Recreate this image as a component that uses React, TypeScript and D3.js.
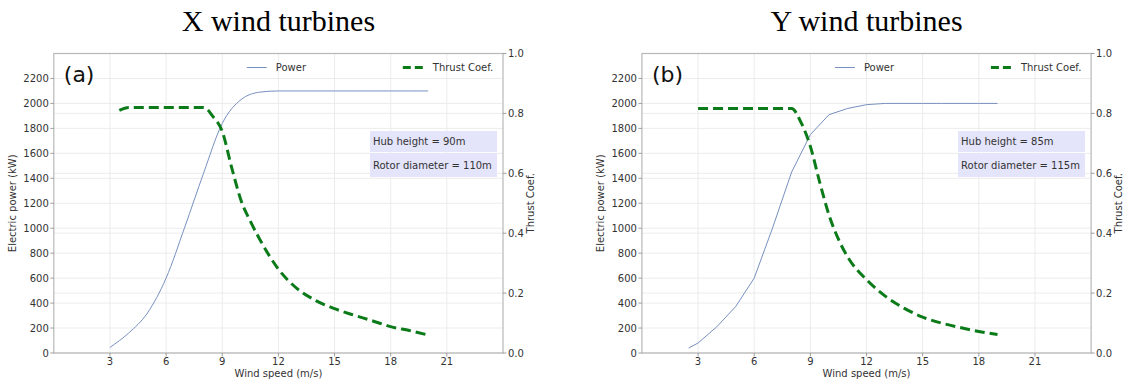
import React from "react";
import * as d3 from "d3";

// ---- Data ----
const windPowerA = [3, 4, 5, 6, 7, 8, 9, 10, 11, 12, 13, 14, 15, 16, 17, 18, 19, 20];
const powerA = [45, 160, 320, 600, 1010, 1440, 1840, 2030, 2090, 2100, 2100, 2100, 2100, 2100, 2100, 2100, 2100, 2100];
const windThrustA = [3.5, 4, 5, 6, 7, 8, 8.5, 9, 9.5, 10, 10.5, 11, 12, 13, 14, 15, 16, 17, 18, 19, 20];
const thrustA = [0.81, 0.82, 0.82, 0.82, 0.82, 0.82, 0.79, 0.74, 0.62, 0.51, 0.44, 0.38, 0.28, 0.215, 0.175, 0.148, 0.127, 0.108, 0.088, 0.075, 0.06];

const windPowerB = [2.5, 3, 4, 5, 6, 7, 8, 9, 10, 11, 12, 13, 14, 15, 16, 17, 18, 19];
const powerB = [40, 80, 210, 370, 600, 1010, 1450, 1750, 1910, 1960, 1990, 2000, 2000, 2000, 2000, 2000, 2000, 2000];
const windThrustB = [3, 4, 5, 6, 7, 8, 8.5, 9, 9.5, 10, 10.5, 11, 12, 13, 14, 15, 16, 17, 18, 19];
const thrustB = [0.816, 0.816, 0.816, 0.816, 0.816, 0.816, 0.77, 0.69, 0.57, 0.46, 0.38, 0.32, 0.245, 0.19, 0.15, 0.12, 0.1, 0.085, 0.072, 0.062];

const xTicks = [3, 6, 9, 12, 15, 18, 21];
const powerTicks = [0, 200, 400, 600, 800, 1000, 1200, 1400, 1600, 1800, 2000, 2200];
const thrustTicks = [0, 0.2, 0.4, 0.6, 0.8, 1.0];

const panels = [
  {
    title: "X wind turbines",
    tag: "(a)",
    hub: "Hub height = 90m",
    rotor: "Rotor diameter = 110m",
    windP: windPowerA,
    power: powerA,
    windT: windThrustA,
    thrust: thrustA,
    curve: d3.curveMonotoneX,
  },
  {
    title: "Y wind turbines",
    tag: "(b)",
    hub: "Hub height = 85m",
    rotor: "Rotor diameter = 115m",
    windP: windPowerB,
    power: powerB,
    windT: windThrustB,
    thrust: thrustB,
    curve: d3.curveLinear,
  },
];

const W = 1125;
const H = 383;
const TOP = 53.5;
const BOTTOM = 353;
const PLOT_W = 449.2;
const LEFTS = [53.8, 641.9];
const FONT = "DejaVu Sans, Verdana, sans-serif";
const TXT = "#333333";
const SPINE = "#b8b8b8";
const GRID = "#ececec";
const POWER_COLOR = "#7890c0";
const THRUST_COLOR = "#0b7a18";

function Panel({ p, left }: { p: (typeof panels)[number]; left: number }) {
  const right = left + PLOT_W;
  const x = d3.scaleLinear().domain([0, 24]).range([left, right]);
  const yP = d3.scaleLinear().domain([0, 2400]).range([BOTTOM, TOP]);
  const yT = d3.scaleLinear().domain([0, 1]).range([BOTTOM, TOP]);

  const powerLine = d3
    .line<number>()
    .x((_, i) => x(p.windP[i]))
    .y((d) => yP(d))
    .curve(p.curve);
  const thrustLine = d3
    .line<number>()
    .x((_, i) => x(p.windT[i]))
    .y((d) => yT(d))
    .curve(d3.curveMonotoneX);

  const cx = (left + right) / 2;
  const cy = (TOP + BOTTOM) / 2;
  const boxX = right - 133;

  return (
    <g>
      <text x={cx} y={31} textAnchor="middle" fontFamily="Liberation Serif, Times New Roman, serif" fontSize={30} fill="#000">
        {p.title}
      </text>
      {/* grid */}
      {xTicks.map((t) => (
        <line key={"gx" + t} x1={x(t)} x2={x(t)} y1={TOP} y2={BOTTOM} stroke={GRID} strokeWidth={1} />
      ))}
      {powerTicks.map((t) => (
        <line key={"gy" + t} x1={left} x2={right} y1={yP(t)} y2={yP(t)} stroke={GRID} strokeWidth={1} />
      ))}
      {thrustTicks.map((t) => (
        <line key={"gt" + t} x1={left} x2={right} y1={yT(t)} y2={yT(t)} stroke={GRID} strokeWidth={1} />
      ))}
      {/* spines */}
      <rect x={left} y={TOP} width={PLOT_W} height={BOTTOM - TOP} fill="none" stroke={SPINE} strokeWidth={1.2} />
      {/* left ticks */}
      {powerTicks.map((t) => (
        <g key={"lt" + t}>
          <line x1={left - 3.5} x2={left} y1={yP(t)} y2={yP(t)} stroke="#888" strokeWidth={0.8} />
          <text x={left - 5} y={yP(t)} dy="0.35em" textAnchor="end" fontFamily={FONT} fontSize={10} fill={TXT}>
            {t}
          </text>
        </g>
      ))}
      {/* right ticks */}
      {thrustTicks.map((t) => (
        <g key={"rt" + t}>
          <line x1={right} x2={right + 3.5} y1={yT(t)} y2={yT(t)} stroke="#888" strokeWidth={0.8} />
          <text x={right + 5} y={yT(t)} dy="0.35em" textAnchor="start" fontFamily={FONT} fontSize={10} fill={TXT}>
            {t.toFixed(1)}
          </text>
        </g>
      ))}
      {/* x ticks */}
      {xTicks.map((t) => (
        <g key={"xt" + t}>
          <line x1={x(t)} x2={x(t)} y1={BOTTOM} y2={BOTTOM + 3.5} stroke="#888" strokeWidth={0.8} />
          <text x={x(t)} y={BOTTOM + 12} textAnchor="middle" fontFamily={FONT} fontSize={10} fill={TXT}>
            {t}
          </text>
        </g>
      ))}
      <text x={cx} y={377} textAnchor="middle" fontFamily={FONT} fontSize={10} fill={TXT}>
        Wind speed (m/s)
      </text>
      <text
        transform={`translate(${left - 38},${cy}) rotate(-90)`}
        textAnchor="middle"
        fontFamily={FONT}
        fontSize={10}
        fill={TXT}
      >
        Electric power (kW)
      </text>
      <text
        transform={`translate(${right + 31},${cy}) rotate(-90)`}
        textAnchor="middle"
        fontFamily={FONT}
        fontSize={10}
        fill={TXT}
      >
        Thrust Coef.
      </text>
      {/* annotation boxes */}
      <rect x={boxX} y={131} width={127} height={21} fill="#e4e4fa" />
      <rect x={boxX} y={153} width={127} height={24} fill="#e4e4fa" />
      <text x={boxX + 3} y={141.5} dy="0.35em" fontFamily={FONT} fontSize={10} fill={TXT}>
        {p.hub}
      </text>
      <text x={boxX + 3} y={165} dy="0.35em" fontFamily={FONT} fontSize={10} fill={TXT}>
        {p.rotor}
      </text>
      {/* lines */}
      <path d={powerLine(p.power) ?? ""} fill="none" stroke={POWER_COLOR} strokeWidth={1} />
      <path
        d={thrustLine(p.thrust) ?? ""}
        fill="none"
        stroke={THRUST_COLOR}
        strokeWidth={3}
        strokeDasharray="10 5"
      />
      {/* tag */}
      <text x={left + 10} y={82} fontFamily={FONT} fontSize={22} fill="#111">
        {p.tag}
      </text>
      {/* legends */}
      <line x1={left + 193} x2={left + 213} y1={67.5} y2={67.5} stroke={POWER_COLOR} strokeWidth={1} />
      <text x={left + 222} y={67.5} dy="0.35em" fontFamily={FONT} fontSize={10} fill={TXT}>
        Power
      </text>
      <line
        x1={left + 349}
        x2={left + 371}
        y1={67.5}
        y2={67.5}
        stroke={THRUST_COLOR}
        strokeWidth={3}
        strokeDasharray="8 4"
      />
      <text x={left + 379} y={67.5} dy="0.35em" fontFamily={FONT} fontSize={10} fill={TXT}>
        Thrust Coef.
      </text>
    </g>
  );
}

export default function App() {
  return (
    <svg
      width={W}
      height={H}
      viewBox={`0 0 ${W} ${H}`}
      style={{ position: "absolute", left: 0, top: 0, background: "#fff" }}
    >
      <rect x={0} y={0} width={W} height={H} fill="#fff" />
      {panels.map((p, i) => (
        <Panel key={p.tag} p={p} left={LEFTS[i]} />
      ))}
    </svg>
  );
}
